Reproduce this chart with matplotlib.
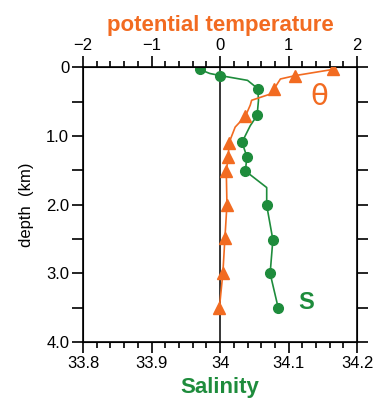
import matplotlib.pyplot as plt
import numpy as np

plt.rcParams['font.family'] = ['Liberation Sans', 'DejaVu Sans']

ORANGE = '#f26b21'
GREEN = '#1e8c3c'

# 盐度剖面 (线)
sal_line_s = [33.970, 33.985, 34.000, 34.040, 34.055, 34.056, 34.054, 34.044,
              34.032, 34.039, 34.037, 34.068, 34.068, 34.077, 34.073, 34.085]
sal_line_d = [0.03, 0.09, 0.12, 0.19, 0.31, 0.48, 0.70, 0.85,
              1.09, 1.30, 1.51, 1.75, 2.01, 2.51, 3.00, 3.51]
# 盐度剖面 (标记)
sal_pts_s = [33.970, 34.000, 34.055, 34.054, 34.032, 34.039, 34.037,
             34.068, 34.077, 34.073, 34.085]
sal_pts_d = [0.03, 0.12, 0.31, 0.70, 1.09, 1.30, 1.51, 2.01, 2.51, 3.00, 3.51]

# 位温剖面 (线)
tmp_line_t = [1.65, 1.10, 0.88, 0.79, 0.76, 0.46, 0.44, 0.37, 0.22,
              0.13, 0.12, 0.09, 0.10, 0.07, 0.04, -0.01]
tmp_line_d = [0.03, 0.12, 0.17, 0.31, 0.38, 0.48, 0.55, 0.71, 0.87,
              1.10, 1.30, 1.51, 2.00, 2.49, 3.00, 3.50]
# 位温剖面 (标记)
tmp_pts_t = [1.65, 1.10, 0.79, 0.37, 0.13, 0.12, 0.09, 0.10, 0.07, 0.04, -0.01]
tmp_pts_d = [0.03, 0.12, 0.31, 0.71, 1.10, 1.30, 1.51, 2.00, 2.49, 3.00, 3.50]

sal_ticks = [33.8, 33.9, 34.0, 34.1, 34.2]
sal_labels = ['33.8', '33.9', '34', '34.1', '34.2']
tmp_ticks = [-2, -1, 0, 1, 2]
tmp_labels = ['\u22122', '\u22121', '0', '1', '2']
dep_ticks = [0, 0.5, 1, 1.5, 2, 2.5, 3, 3.5, 4]
dep_labels = ['0', '', '1.0', '', '2.0', '', '3.0', '', '4.0']

fig = plt.figure(figsize=(3.74, 4.03), dpi=100)
ax = fig.add_axes([0.222, 0.151, 0.733, 0.682])

ax.axvline(34.0, color='black', lw=1.1, zorder=1)
ax.plot(sal_line_s, sal_line_d, color=GREEN, lw=1.2, zorder=2)
ax.plot(sal_pts_s, sal_pts_d, 'o', color=GREEN, ms=7, zorder=3)

ax.set_xlim(33.8, 34.2)
ax.set_ylim(4, 0)
ax.set_xticks(sal_ticks)
ax.set_xticklabels(sal_labels)
ax.set_xticks(np.arange(33.8, 34.2001, 0.02), minor=True)
ax.set_yticks(dep_ticks)
ax.set_yticklabels(dep_labels)
ax.tick_params(axis='both', which='major', direction='out', length=8, width=1.2,
               labelsize=12, pad=2)
ax.tick_params(axis='x', which='minor', direction='out', length=4, width=1.2)
ax.tick_params(axis='y', which='both', left=True, right=True, length=8)
ax.set_xlabel('Salinity', color=GREEN, fontsize=16, fontweight='bold', labelpad=4)
ax.set_ylabel('depth  (km)', fontsize=12, labelpad=9)
for s in ax.spines.values():
    s.set_linewidth(1.2)

ax2 = ax.twiny()
ax2.plot(tmp_line_t, tmp_line_d, color=ORANGE, lw=1.2, zorder=2)
ax2.plot(tmp_pts_t, tmp_pts_d, '^', color=ORANGE, ms=8, zorder=3)
ax2.set_xlim(-2, 2)
ax2.set_ylim(4, 0)
ax2.set_xticks(tmp_ticks)
ax2.set_xticklabels(tmp_labels)
ax2.set_xticks(np.arange(-2, 2.001, 0.2), minor=True)
ax2.tick_params(axis='x', which='major', direction='out', length=8, width=1.2,
                labelsize=12, pad=2)
ax2.tick_params(axis='x', which='minor', direction='out', length=4, width=1.2)
ax2.set_xlabel('potential temperature', color=ORANGE, fontsize=16,
               fontweight='bold', labelpad=5)

ax2.text(1.45, 0.43, '\u03b8', color=ORANGE, fontsize=21, ha='center', va='center',
         family=['DejaVu Sans'])
ax2.text(1.25, 3.42, 'S', color=GREEN, fontsize=17, fontweight='bold',
         ha='center', va='center')

fig.savefig('out.png', dpi=100)
